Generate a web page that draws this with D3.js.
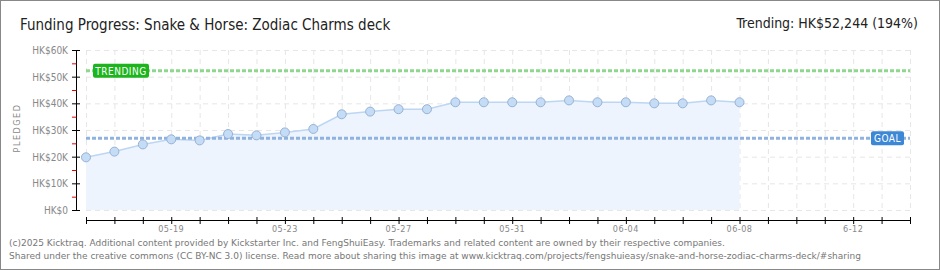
<!DOCTYPE html>
<html>
<head>
<meta charset="utf-8">
<script src="https://cdn.jsdelivr.net/npm/d3@7"></script>
<style>
  body { margin: 0; background: #fff; }
  svg text { font-family: "DejaVu Sans Condensed", "DejaVu Sans", sans-serif; }
</style>
</head>
<body>
<div id="funding_chart"></div>
<script>
// daily pledged totals (HK$), 05-16 .. 06-08
const dates = ["2025-05-16","2025-05-17","2025-05-18","2025-05-19","2025-05-20","2025-05-21","2025-05-22","2025-05-23",
  "2025-05-24","2025-05-25","2025-05-26","2025-05-27","2025-05-28","2025-05-29","2025-05-30","2025-05-31",
  "2025-06-01","2025-06-02","2025-06-03","2025-06-04","2025-06-05","2025-06-06","2025-06-07","2025-06-08"];
const pledged = [19750, 21900, 24600, 26500, 26100, 28500, 28000, 29100,
  30400, 35900, 36900, 37800, 37800, 40400, 40400, 40400,
  40400, 41100, 40400, 40400, 40000, 40000, 41100, 40400];
const yTicks = [0, 10000, 20000, 30000, 40000, 50000, 60000];
const xLabelDates = ["2025-05-19", "2025-05-23", "2025-05-27", "2025-05-31", "2025-06-04", "2025-06-08", "2025-06-12"];
const xLabelText = ["05-19", "05-23", "05-27", "05-31", "06-04", "06-08", "6-12"];
const goal = 26930;
const trending = 52244;

const W = 940, H = 270;
const margin = { top: 50, right: 30, bottom: 60, left: 86 };
const width = W - margin.left - margin.right,
  height = H - margin.top - margin.bottom;

const parse = d3.timeParse("%Y-%m-%d");
const data = dates.map((d, i) => ({ date: parse(d), value: pledged[i] }));

const svg = d3.select("#funding_chart").append("svg")
  .attr("width", W).attr("height", H);

// frame
svg.append("rect").attr("x", 0.5).attr("y", 0.5).attr("width", W - 1).attr("height", H - 1)
  .attr("fill", "#fff").attr("stroke", "#888");

const x = d3.scaleTime()
  .domain([parse("2025-05-16"), parse("2025-06-14")])
  .range([margin.left, margin.left + width]);
const y = d3.scaleLinear().domain([0, 60000]).range([margin.top + height, margin.top]);

// grid
const days = d3.timeDay.range(x.domain()[0], d3.timeDay.offset(x.domain()[1], 1));
svg.append("g").selectAll("line").data(days).join("line")
  .attr("x1", d => x(d) + 0.5).attr("x2", d => x(d) + 0.5)
  .attr("y1", margin.top).attr("y2", margin.top + height)
  .attr("stroke", "#e6e6e6").attr("stroke-dasharray", "5,4");
svg.append("g").selectAll("line").data(yTicks).join("line")
  .attr("x1", margin.left).attr("x2", margin.left + width)
  .attr("y1", d => y(d) + 0.5).attr("y2", d => y(d) + 0.5)
  .attr("stroke", "#e6e6e6").attr("stroke-dasharray", "5,4");

// area + line
svg.append("path").datum(data)
  .attr("fill", "#edf4fd")
  .attr("d", d3.area().x(d => x(d.date)).y0(y(0)).y1(d => y(d.value)));
svg.append("path").datum(data)
  .attr("fill", "none").attr("stroke", "#bcd6f3").attr("stroke-width", 1.5)
  .attr("d", d3.line().x(d => x(d.date)).y(d => y(d.value)));

// goal & trending lines
svg.append("line")
  .attr("x1", margin.left).attr("x2", margin.left + width)
  .attr("y1", y(goal)).attr("y2", y(goal))
  .attr("stroke", "#8fb3de").attr("stroke-width", 3).attr("stroke-dasharray", "4,2");
svg.append("line")
  .attr("x1", margin.left).attr("x2", margin.left + width)
  .attr("y1", y(trending)).attr("y2", y(trending))
  .attr("stroke", "#8fd68f").attr("stroke-width", 3).attr("stroke-dasharray", "4,2");

// points
svg.append("g").selectAll("circle").data(data).join("circle")
  .attr("cx", d => x(d.date)).attr("cy", d => y(d.value)).attr("r", 4.5)
  .attr("fill", "#c5dcf7").attr("stroke", "#97b2d4").attr("stroke-width", 1);

// labels on lines
function tag(cx, cy, w, fill, label) {
  svg.append("rect").attr("x", cx).attr("y", cy - 7).attr("width", w).attr("height", 14)
    .attr("rx", 2).attr("fill", fill);
  svg.append("text").attr("x", cx + w / 2).attr("y", cy + 4)
    .attr("text-anchor", "middle").attr("fill", "#fff")
    .style("font-size", "10px").style("letter-spacing", "0.5px")
    .text(label);
}
tag(93, y(trending), 56, "#1db51d", "TRENDING");
tag(871, y(goal), 33, "#3c88d6", "GOAL");

// y axis
const axisX = 76;
svg.append("line").attr("x1", axisX + 0.5).attr("x2", axisX + 0.5)
  .attr("y1", margin.top).attr("y2", margin.top + height).attr("stroke", "#000");
svg.append("g").selectAll("line").data(d3.range(5000, 60000, 10000)).join("line")
  .attr("x1", axisX - 4).attr("x2", axisX + 0.5)
  .attr("y1", d => y(d) + 0.5).attr("y2", d => y(d) + 0.5).attr("stroke", "#e00000");
svg.append("g").selectAll("line").data(yTicks).join("line")
  .attr("x1", axisX - 4).attr("x2", axisX + 4)
  .attr("y1", d => y(d) + 0.5).attr("y2", d => y(d) + 0.5).attr("stroke", "#000");
svg.append("g").selectAll("text").data(yTicks).join("text")
  .attr("x", 68).attr("y", d => y(d) + 4)
  .attr("text-anchor", "end").attr("fill", "#888")
  .style("font-size", "10px")
  .text(d => "HK$" + (d === 0 ? "0" : d / 1000 + "K"));
svg.append("text")
  .attr("transform", "translate(20," + (margin.top + height / 2 - 2) + ") rotate(-90)")
  .attr("text-anchor", "middle").attr("fill", "#888")
  .style("font-size", "9px").style("letter-spacing", "1.5px")
  .text("PLEDGED");

// x axis
const axisY = 220;
svg.append("line").attr("x1", margin.left).attr("x2", margin.left + width)
  .attr("y1", axisY + 0.5).attr("y2", axisY + 0.5).attr("stroke", "#000");
svg.append("g").selectAll("line").data(days).join("line")
  .attr("x1", d => x(d) + 0.5).attr("x2", d => x(d) + 0.5)
  .attr("y1", axisY - 3).attr("y2", axisY + 4).attr("stroke", "#000");
svg.append("g").selectAll("text").data(xLabelDates).join("text")
  .attr("x", d => x(parse(d))).attr("y", 232)
  .attr("text-anchor", "middle").attr("fill", "#888")
  .style("font-size", "9px").style("letter-spacing", "0.5px")
  .text((d, i) => xLabelText[i]);

// title
svg.append("text").attr("x", 20).attr("y", 30)
  .attr("fill", "#222").style("font-size", "15px")
  .text("Funding Progress: Snake & Horse: Zodiac Charms deck");
svg.append("text").attr("x", 918).attr("y", 28)
  .attr("text-anchor", "end").attr("fill", "#222").style("font-size", "14px")
  .text("Trending: HK$52,244 (194%)");

// footer
svg.append("text").attr("x", 9).attr("y", 246)
  .attr("fill", "#777").style("font-family", "'DejaVu Sans', sans-serif").style("font-size", "9px")
  .text("(c)2025 Kicktraq. Additional content provided by Kickstarter Inc. and FengShuiEasy. Trademarks and related content are owned by their respective companies.");
svg.append("text").attr("x", 9).attr("y", 259)
  .attr("fill", "#777").style("font-family", "'DejaVu Sans', sans-serif").style("font-size", "9px")
  .text("Shared under the creative commons (CC BY-NC 3.0) license. Read more about sharing this image at www.kicktraq.com/projects/fengshuieasy/snake-and-horse-zodiac-charms-deck/#sharing");
</script>
</body>
</html>
